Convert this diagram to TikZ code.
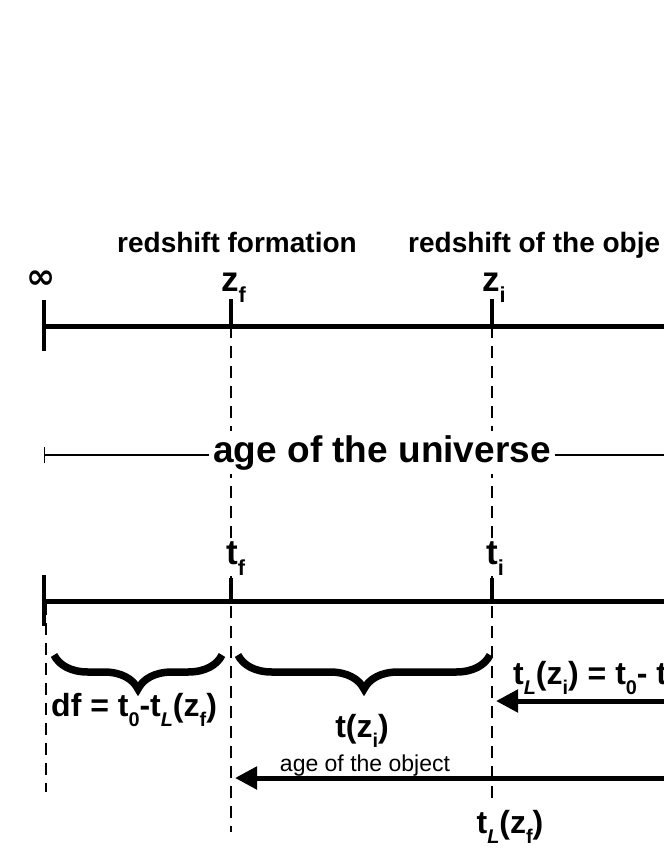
\documentclass[tikz,border=0pt]{standalone}
\usepackage{fontspec}
\usepackage{graphicx}
\setmainfont{Liberation Sans}
\newfontfamily\symfont{DejaVu Sans}
\usetikzlibrary{arrows.meta,decorations.pathreplacing}
\newcommand\lsub[1]{\raisebox{-0.32em}{\scalebox{0.62}{#1}}}
\begin{document}
\begin{tikzpicture}[x=1pt,y=-1pt,
  axis/.style={line width=5pt},
  tickmark/.style={line width=4.5pt},
  dashline/.style={line width=2.4pt, dash pattern=on 12pt off 8pt},
  thinline/.style={line width=1.3pt},
  big/.style={font=\bfseries\fontsize{35}{35}\selectfont, inner sep=1pt},
  mid/.style={font=\bfseries\fontsize{32}{32}\selectfont, inner sep=1pt},
  head/.style={font=\bfseries\fontsize{28}{28}\selectfont, inner sep=1pt},
  small/.style={font=\fontsize{23}{23}\selectfont, inner sep=1pt},
  bracestyle/.style={line width=7.5pt, decorate, decoration={brace, mirror, amplitude=34pt}},
  arr/.style={line width=5pt, -{Triangle[length=22pt,width=22pt]}}
]
\useasboundingbox (0,0) rectangle (664,860);
\clip (0,0) rectangle (664,860);

% coordinates
\coordinate (a0) at (44,326);
\coordinate (af) at (231,326);
\coordinate (ai) at (492,326);
\coordinate (aend) at (670,326);
\coordinate (b0) at (44,601);
\coordinate (bf) at (231,601);
\coordinate (bi) at (492,601);
\coordinate (bend) at (670,601);
\coordinate (df0) at (231,832);
\coordinate (di0) at (492,800);
\coordinate (l0) at (46,603);
\coordinate (l1) at (46,792);

% dashed guides
\draw[dashline] (af) -- (df0);
\draw[dashline] (ai) -- (di0);
\draw[dashline] (l0) -- (l1);

% top axis
\draw[axis] (a0) -- (aend);
\draw[tickmark] (44,300) -- (44,351);
\draw[tickmark] (af) -- ++(0,-27);
\draw[tickmark] (ai) -- ++(0,-27);

% labels top
\node[head, anchor=base] (rf) at (237,252) {redshift formation};
\node[head, anchor=base west] (ro) at (407,252) {redshift of the obje};
\node[font=\symfont\bfseries\fontsize{35}{35}\selectfont, inner sep=0pt] (inf) at (41,280) {∞};
\node[big, anchor=base west] (zfl) at (220,291) {z\lsub{f}};
\node[big, anchor=base west] (zil) at (481,291) {z\lsub{i}};

% age of the universe
\node[font=\bfseries\fontsize{37}{37}\selectfont, fill=white, inner sep=4pt, anchor=base] (aou) at (382,462) {age of the universe};
\coordinate (u0) at (44,455);
\coordinate (u1) at (670,455);
\draw[thinline, {Bar[width=16pt]}-] (u0) -- (u0 -| aou.west);
\draw[thinline] (u1 -| aou.east) -- (u1);

% bottom axis
\draw[axis] (b0) -- (bend);
\draw[tickmark] (44,575) -- (44,626);
\draw[tickmark] (bf) -- ++(0,-23);
\draw[tickmark] (bi) -- ++(0,-23);
\node[big, anchor=base west, fill=white] (tfl) at (225,564) {t\lsub{f}};
\node[big, anchor=base west, fill=white] (til) at (485,564) {t\lsub{i}};

% braces
\draw[bracestyle] (54,655) -- (222,655);
\draw[bracestyle] (238,655) -- (490,655);

% brace labels
\node[mid, anchor=base west] (dfl) at (50,716) {df = t\lsub{0}-t\lsub{\itshape L}(z\lsub{f})};
\node[mid, anchor=base] (tz) at (362,737) {t(z\lsub{i})};
\node[small, anchor=base] (ago) at (365,771) {age of the object};
\node[mid, anchor=base west] (tlzi) at (512,684) {t\lsub{\itshape L}(z\lsub{i}) = t\lsub{0}- t};

% arrows
\coordinate (r1) at (670,701);
\coordinate (r2) at (670,778);
\draw[arr] (r1) -- (496,701);
\draw[arr] (r2) -- (235,778);
\node[mid, anchor=base] (tlzf) at (510,833) {t\lsub{\itshape L}(z\lsub{f})};
\end{tikzpicture}
\end{document}
